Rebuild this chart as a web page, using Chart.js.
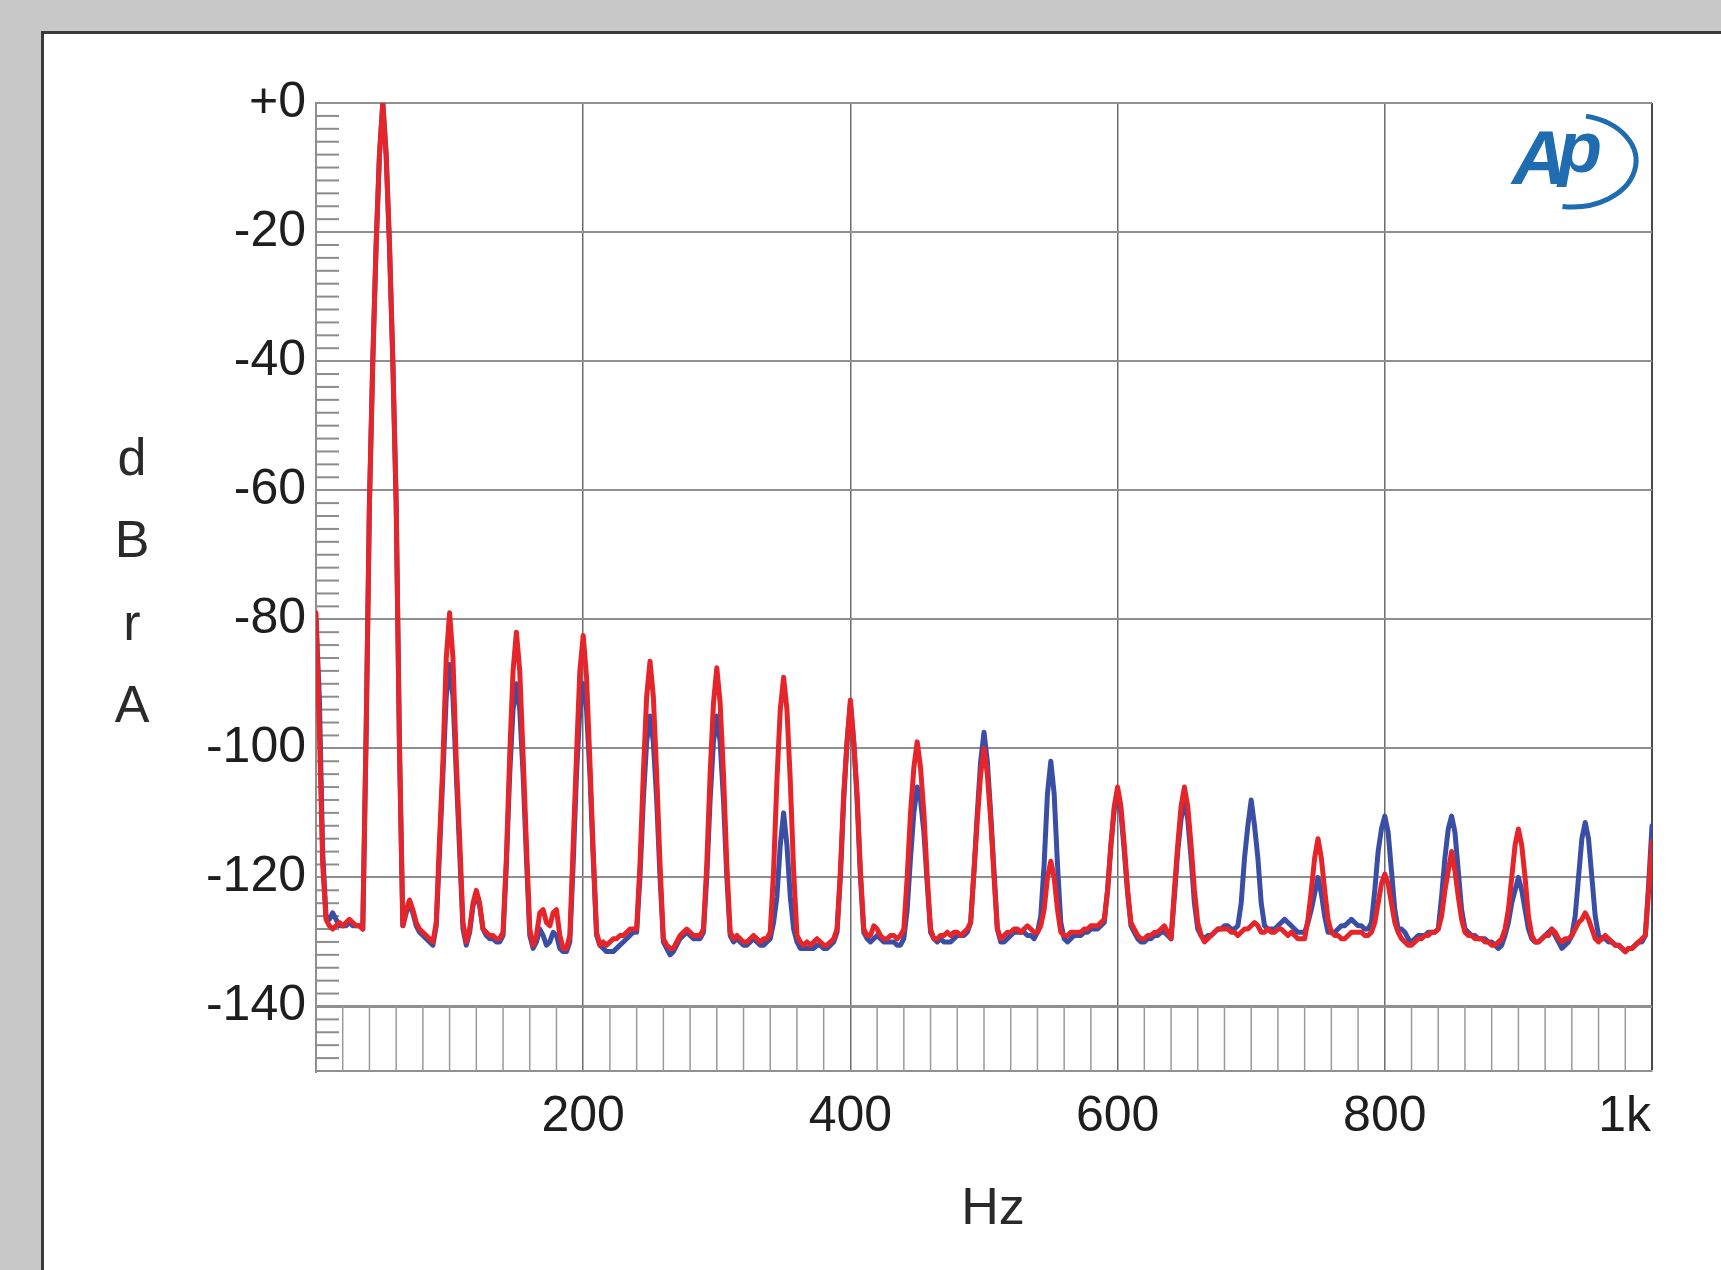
<!DOCTYPE html>
<html>
<head>
<meta charset="utf-8">
<script src="https://cdn.jsdelivr.net/npm/chart.js@4.4.1/dist/chart.umd.min.js"></script>
<style>
    html, body { margin: 0; padding: 0; }
    body { width: 1721px; height: 1270px; background: #c8c8c9; overflow: hidden; position: relative; }
    #painel { position: absolute; left: 41px; top: 31px; width: 1700px; height: 1260px; background: #fff;
              border-left: 3px solid #3a3a3a; border-top: 3px solid #3a3a3a; }
    #grafico { position: absolute; left: 0; top: 0; }
</style>
</head>
<body>
<div id="painel"></div>
<canvas id="grafico" width="1721" height="1270"></canvas>
<script>
    // ESPECTRO (dBrA), um valor a cada 2,5 Hz de 0 a 1000 Hz
    const binHz = 2.5;

    // vermelho (desenhado por cima)
    const red = [
        -79, -97, -118, -126.5, -127.5, -128, -127.5, -127, -127.5, -127, -126.5, -127, -127.5, -127.5, -128, -98, -62, -40, -22, -8,          // 0
        0, -8, -22, -40, -62, -100, -127.5, -125, -123.5, -125, -127, -128, -128.5, -129, -129.5, -130, -127, -114, -102, -86,                // 50
        -79, -86, -102, -114, -127, -130, -128, -124, -122, -124, -128, -128.5, -129, -129, -129.5, -129.5, -128.5, -117, -101, -88,          // 100
        -82, -88, -101, -115, -128, -130.5, -129, -125.5, -125, -127, -127.5, -125.5, -125, -129, -131, -131, -129, -115, -101, -88,          // 150
        -82.5, -89, -102, -116, -128.5, -130.5, -130, -130.5, -130, -129.5, -129.5, -129, -129, -128.5, -128, -128, -128, -118, -104, -92,    // 200
        -86.5, -92, -104, -118, -129.5, -130.5, -131, -131, -130, -129, -128.5, -128, -128.5, -129, -129, -129, -128, -118, -104, -93,        // 250
        -87.5, -93, -104, -118, -128.5, -129.5, -129, -129.5, -130, -130, -129.5, -129, -129.5, -130, -129.5, -129.5, -128.5, -119, -105, -94, // 300
        -89, -94, -105, -119, -129, -130, -130.5, -130, -130.5, -130, -129.5, -130, -130.5, -130.5, -130, -129.5, -128, -119, -107, -99,      // 350
        -92.5, -99, -107, -119, -128, -129, -129, -127.5, -128, -129, -129.5, -129.5, -129, -129, -129.5, -129, -128, -120, -110, -103,       // 400
        -99, -103, -110, -120, -128, -129.5, -129.5, -129, -129, -128.5, -129, -128.5, -128.5, -129, -128.5, -128, -127, -119, -111, -104,    // 450
        -100, -104, -111, -120, -128, -129.5, -129, -128.5, -128.5, -128, -128, -128.5, -128, -127.5, -128, -128.5, -128.5, -127.5, -125, -120, // 500
        -117.5, -120, -125, -128.5, -129, -129, -128.5, -128.5, -128.5, -128.5, -128, -128, -127.5, -127.5, -127.5, -127, -126.5, -122, -115, -109, // 550
        -106, -109, -115, -122, -127, -128, -129, -129.5, -129.5, -129, -129, -128.5, -128.5, -128, -127.5, -128.5, -129.5, -122, -115, -109,  // 600
        -106, -109, -115, -122, -127, -129, -130, -129.5, -129, -128.5, -128, -128, -128, -128, -128.5, -128.5, -129, -128.5, -128, -128,     // 650
        -127.5, -127, -127.5, -128.5, -128.5, -128, -128.5, -128.5, -128, -128, -128.5, -129, -128.5, -129, -129.5, -129.5, -129.5, -126.5, -122, -117, // 700
        -114, -117, -122, -126.5, -128.5, -129, -129, -129.5, -129.5, -129, -128.5, -128.5, -128.5, -128.5, -129, -129, -128.5, -127, -124, -121, // 750
        -119.5, -121, -124, -127, -128.5, -129.5, -130, -130.5, -130.5, -130, -129.5, -129.5, -129, -129, -128.5, -128.5, -128, -126, -122, -119, // 800
        -116, -119, -123, -126.5, -128.5, -129, -129, -129.5, -129.5, -129.5, -130, -130, -130.5, -130.5, -130, -129.5, -128, -125, -120, -115, // 850
        -112.5, -115, -120, -126, -129, -130, -130, -129.5, -129, -129, -128, -128.5, -129.5, -130, -129.5, -129.5, -129, -128, -127, -126.5,  // 900
        -125.5, -126.5, -128, -129.5, -130, -129.5, -129, -129.5, -130, -130.5, -130.5, -131, -131.5, -131, -131, -130.5, -130, -129.5, -129, -122, // 950
        -114.5
    ];

    // azul
    const blue = [
        -80, -92, -116, -126, -126.5, -125.5, -126.5, -127.5, -127.5, -127.5, -127, -127.5, -127.5, -127.5, -128, -98, -62, -40, -22, -8,    // 0
        0, -8, -22, -40, -62, -100, -127.5, -125.5, -124, -125.5, -127.5, -128.5, -129, -129.5, -130, -130.5, -127.5, -116, -104, -92,         // 50
        -87, -92, -104, -116, -128, -130.5, -128.5, -124.5, -122.5, -124.5, -128, -129, -129.5, -129.5, -130, -130, -129, -118, -104, -94,     // 100
        -90, -94, -104, -117, -129, -131, -130, -128, -129, -130.5, -130, -128.5, -129, -131, -131.5, -131.5, -130, -118, -104, -94,           // 150
        -90, -94, -104, -117, -129, -130.5, -131, -131.5, -131.5, -131.5, -131, -130.5, -130, -129.5, -129, -128.5, -128.5, -120, -108, -99,   // 200
        -95, -99, -108, -120, -130, -131, -132, -131.5, -130.5, -129.5, -129, -128.5, -129, -129.5, -129.5, -129.5, -128.5, -120, -108, -99,   // 250
        -95, -99, -108, -120, -129, -130, -129.5, -130, -130.5, -130.5, -130, -129.5, -130, -130.5, -130.5, -130, -129.5, -127, -123, -115,    // 300
        -110, -115, -123, -128, -130, -131, -131, -131, -131, -131, -130.5, -130.5, -131, -131, -130.5, -130, -128.5, -120, -108, -99,         // 350
        -93, -99, -108, -120, -128.5, -129.5, -130, -129.5, -129, -129.5, -130, -130, -130, -130, -130.5, -130.5, -129.5, -125, -117, -110,    // 400
        -106, -108, -113, -121, -128.5, -129.5, -130, -129.5, -130, -130, -130, -129.5, -129, -129, -129, -128.5, -127, -119, -110, -102,      // 450
        -97.5, -102, -110, -119, -128, -130, -130, -129.5, -129, -128.5, -128.5, -128.5, -128.5, -129, -129, -129.5, -128.5, -126, -118, -107, // 500
        -102, -107, -118, -127, -129.5, -130, -129.5, -129, -129, -129, -128.5, -128.5, -128, -128, -128, -127.5, -127, -122, -115, -109.5,    // 550
        -107, -110, -116, -122.5, -127.5, -128.5, -129.5, -130, -130, -129.5, -129.5, -129, -129, -128.5, -128.5, -129, -129.5, -123, -116, -111, // 600
        -108, -111, -117, -124, -128, -129, -129.5, -129, -129, -128.5, -128, -128, -127.5, -127.5, -128, -128, -127.5, -124, -117, -112,      // 650
        -108, -112, -117, -124, -127.5, -128, -128, -128, -127.5, -127, -126.5, -127, -127.5, -128, -128.5, -128.5, -128.5, -127, -125, -122.5, // 700
        -120, -122.5, -126, -128.5, -128.5, -128.5, -128, -127.5, -127.5, -127, -126.5, -127, -127.5, -127.5, -128, -128, -127, -122, -116, -112.5, // 750
        -110.5, -113, -119, -125, -128, -128, -128.5, -129.5, -130, -129.5, -129, -129, -129, -128.5, -128.5, -128.5, -128, -123, -117, -112.5, // 800
        -110.5, -113, -119, -125, -128, -128.5, -129, -129, -129.5, -129.5, -129.5, -130, -130, -130.5, -131, -130.5, -129, -127, -124, -122,  // 850
        -120, -122, -125, -128, -129.5, -130, -130, -129.5, -129, -128.5, -128, -129, -130, -131, -130.5, -130, -129, -126, -120, -114,        // 900
        -111.5, -114, -120, -126, -129, -129.5, -129.5, -130, -130, -130.5, -130.5, -131, -131.5, -131, -131, -130.5, -130, -130, -129, -121,  // 950
        -112
    ];

    const freqs = red.map((_, i) => i * binHz);

    const xGrid = [200, 400, 600, 800, 1000];
    const xLabels = ["200", "400", "600", "800", "1k"];
    const yTicks = [-140, -120, -100, -80, -60, -40, -20, 0];
    const yTitle = ["d", "B", "r", "A"];

    const fonte = '"Liberation Sans", Arial, sans-serif';

    // marcas menores (2 dB na esquerda, 20 Hz na faixa de baixo)
    const marcas = {
        id: "marcas",
        beforeDatasetsDraw(chart) {
            const { ctx, chartArea: a, scales: { x, y } } = chart;
            ctx.save();
            ctx.strokeStyle = "#8c8c8c";
            ctx.lineWidth = 2;
            for (let v = -148; v < 0; v += 2) {
                if (v % 20 === 0) continue;
                const py = y.getPixelForValue(v);
                ctx.beginPath();
                ctx.moveTo(a.left, py);
                ctx.lineTo(a.left + 23, py);
                ctx.stroke();
            }
            ctx.strokeStyle = "#9a9a9a";
            ctx.lineWidth = 1.5;
            const y0 = y.getPixelForValue(-140), y1 = y.getPixelForValue(-150);
            for (let f = 20; f < 1000; f += 20) {
                if (f % 200 === 0) continue;
                const px = x.getPixelForValue(f);
                ctx.beginPath();
                ctx.moveTo(px, y0);
                ctx.lineTo(px, y1);
                ctx.stroke();
            }
            ctx.restore();
        }
    };

    // textos: eixo x, titulos e logo
    const textos = {
        id: "textos",
        afterDraw(chart) {
            const { ctx, chartArea: a, scales: { x } } = chart;
            ctx.save();
            ctx.fillStyle = "#1e1e1e";
            ctx.font = "50px " + fonte;
            ctx.textBaseline = "middle";
            xGrid.forEach((v, i) => {
                if (v === 1000) {
                    ctx.textAlign = "right";
                    ctx.fillText(xLabels[i], a.right - 1, 1117);
                } else {
                    ctx.textAlign = "center";
                    ctx.fillText(xLabels[i], x.getPixelForValue(v), 1117);
                }
            });

            ctx.fillStyle = "#2a2a2a";
            ctx.font = "52px " + fonte;
            ctx.textAlign = "center";
            ctx.fillText("Hz", 993, 1210);
            const ys = [461, 543, 626, 708];
            yTitle.forEach((l, i) => ctx.fillText(l, 132, ys[i]));

            // logo Ap
            ctx.fillStyle = "#1f6db0";
            ctx.strokeStyle = "#1f6db0";
            ctx.textAlign = "left";
            ctx.textBaseline = "alphabetic";
            ctx.font = "italic bold 76px " + fonte;
            ctx.fillText("A", 1512, 184);
            ctx.font = "italic bold 72px " + fonte;
            ctx.fillText("p", 1558, 172);
            ctx.lineWidth = 5;
            ctx.beginPath();
            ctx.ellipse(1572, 161, 64, 46, 0, -1.35, 1.72);
            ctx.stroke();
            ctx.restore();
        }
    };

    const ctx = document.getElementById("grafico");
    new Chart(ctx, {
        type: "line",
        data: {
            datasets: [
                {
                    label: "R",
                    data: freqs.map((f, i) => ({ x: f, y: red[i] })),
                    borderColor: "#e6252a",
                    borderWidth: 5
                },
                {
                    label: "L",
                    data: freqs.map((f, i) => ({ x: f, y: blue[i] })),
                    borderColor: "#3a4ea6",
                    borderWidth: 5
                }
            ]
        },
        options: {
            responsive: false,
            animation: false,
            devicePixelRatio: 1,
            layout: { padding: { left: 0, top: 103, right: 69, bottom: 0 } },
            elements: {
                point: { radius: 0 },
                line: { tension: 0, borderJoinStyle: "round", borderCapStyle: "round" }
            },
            plugins: { legend: { display: false }, tooltip: { enabled: false } },
            scales: {
                x: {
                    type: "linear", min: 0, max: 1000,
                    afterBuildTicks: s => { s.ticks = xGrid.map(v => ({ value: v })); },
                    afterFit: s => { s.height = 199; },
                    ticks: { display: false },
                    grid: {
                        drawTicks: false,
                        color: c => c.tick && c.tick.value === 1000 ? "#4a4a4a" : "#6c6c6c",
                        lineWidth: c => c.tick && c.tick.value === 1000 ? 2 : 1.5
                    },
                    border: { display: true, color: "#8f8f8f", width: 2 }
                },
                y: {
                    type: "linear", min: -150, max: 0,
                    afterBuildTicks: s => { s.ticks = yTicks.map(v => ({ value: v })); },
                    afterFit: s => { s.width = 316; },
                    ticks: {
                        autoSkip: false,
                        padding: 10,
                        color: "#1e1e1e",
                        font: { family: fonte, size: 50 },
                        callback: v => v === 0 ? "+0" : String(v)
                    },
                    grid: {
                        drawTicks: false,
                        color: "#8f8f8f",
                        lineWidth: c => c.tick && c.tick.value === -140 ? 3 : 2
                    },
                    border: { display: true, color: "#8f8f8f", width: 2 }
                }
            }
        },
        plugins: [marcas, textos]
    });
</script>
</body>
</html>
